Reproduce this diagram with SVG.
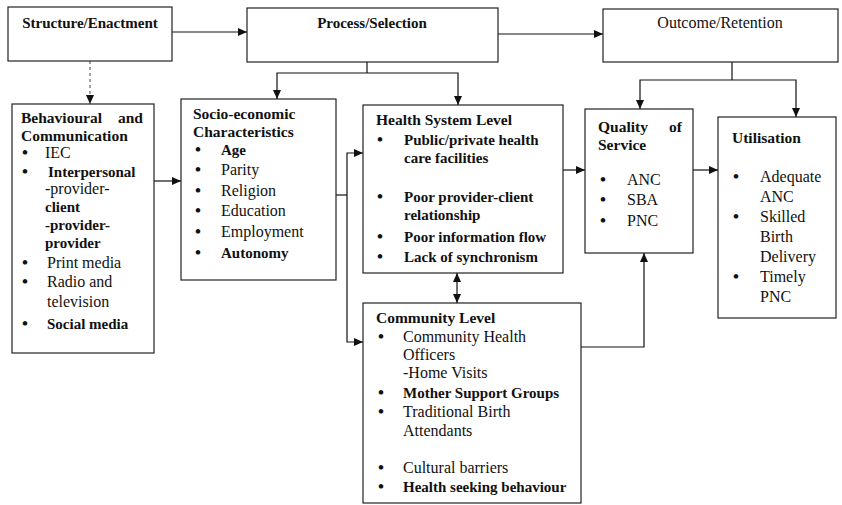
<svg xmlns="http://www.w3.org/2000/svg" width="842" height="505" viewBox="0 0 842 505">
<style>
text{font-family:"Liberation Serif","Times New Roman",serif;font-size:16px;fill:#111}
.b{font-weight:bold;font-size:15px}
.h{font-weight:bold;font-size:15.5px}
.u{font-weight:bold;font-size:17px}
.box{fill:#fff;stroke:#222;stroke-width:1.2}
.c{fill:none;stroke:#111;stroke-width:1.2}
.d{stroke-dasharray:3,3;stroke:#666}
</style>
<defs>
<marker id="ah" markerUnits="userSpaceOnUse" markerWidth="9" markerHeight="8" refX="9" refY="4" orient="auto-start-reverse"><path d="M0,0 L9,4 L0,8 z" fill="#111"/></marker>
</defs>
<rect width="842" height="505" fill="#fff"/>
<g id="connectors">
<path class="c" d="M172,32 H247" marker-end="url(#ah)"/>
<path class="c" d="M498,34 H603" marker-end="url(#ah)"/>
<path class="c d" d="M90,61 V104" marker-end="url(#ah)"/>
<path class="c" d="M367,62 V73"/>
<path class="c" d="M367,73 H277 V99" marker-end="url(#ah)"/>
<path class="c" d="M367,73 H458 V105" marker-end="url(#ah)"/>
<path class="c" d="M732,62 V80"/>
<path class="c" d="M732,80 H640 V109" marker-end="url(#ah)"/>
<path class="c" d="M732,80 H796 V117" marker-end="url(#ah)"/>
<path class="c" d="M154,181 H181" marker-end="url(#ah)"/>
<path class="c" d="M336,195 H347"/>
<path class="c" d="M347,195 V153 H363" marker-end="url(#ah)"/>
<path class="c" d="M347,195 V342 H363" marker-end="url(#ah)"/>
<path class="c" d="M563,170 H585" marker-end="url(#ah)"/>
<path class="c" d="M693,170 H718" marker-end="url(#ah)"/>
<path class="c" d="M457,273 V303" marker-start="url(#ah)" marker-end="url(#ah)"/>
<path class="c" d="M581,347 H644 V253" marker-end="url(#ah)"/>
</g>
<g id="structure">
<rect class="box" x="8" y="7" width="164" height="54"/>
<text class="b" x="90" y="28" text-anchor="middle">Structure/Enactment</text>
</g>
<g id="process">
<rect class="box" x="247" y="8" width="251" height="54"/>
<text class="b" x="372" y="28" text-anchor="middle">Process/Selection</text>
</g>
<g id="outcome">
<rect class="box" x="603" y="9" width="235" height="53"/>
<text x="720" y="28" text-anchor="middle">Outcome/Retention</text>
</g>
<g id="behavioural">
<rect class="box" x="12" y="104" width="142" height="249"/>
<text class="h" x="21" y="123">Behavioural</text>
<text class="h" x="143" y="123" text-anchor="end">and</text>
<text class="h" x="21" y="141">Communication</text>
<text class="u" x="22" y="158">•</text><text x="45" y="158">IEC</text>
<text class="u" x="22" y="177">•</text><text class="b" x="48" y="177">Interpersonal</text>
<text x="45" y="194">-provider-</text>
<text class="b" x="45" y="212">client</text>
<text class="b" x="45" y="230">-provider-</text>
<text class="b" x="45" y="248">provider</text>
<text class="u" x="22" y="268">•</text><text x="47" y="268">Print media</text>
<text class="u" x="22" y="287">•</text><text x="47" y="287">Radio and</text>
<text x="47" y="307">television</text>
<text class="u" x="22" y="329">•</text><text class="b" x="47" y="329">Social media</text>
</g>
<g id="socio">
<rect class="box" x="181" y="99" width="155" height="181"/>
<text class="h" x="193" y="119">Socio-economic</text>
<text class="h" x="193" y="137">Characteristics</text>
<text class="u" x="195" y="155">•</text><text class="b" x="221" y="155">Age</text>
<text class="u" x="195" y="175">•</text><text x="221" y="175">Parity</text>
<text class="u" x="195" y="196">•</text><text x="221" y="196">Religion</text>
<text class="u" x="195" y="216">•</text><text x="221" y="216">Education</text>
<text class="u" x="195" y="237">•</text><text x="221" y="237">Employment</text>
<text class="u" x="195" y="258">•</text><text class="b" x="221" y="258">Autonomy</text>
</g>
<g id="health">
<rect class="box" x="363" y="105" width="200" height="168"/>
<text class="h" x="376" y="125">Health System Level</text>
<text class="u" x="377" y="145">•</text><text class="b" x="404" y="145">Public/private health</text>
<text class="b" x="404" y="163">care facilities</text>
<text class="u" x="377" y="202">•</text><text class="b" x="404" y="202">Poor provider-client</text>
<text class="b" x="404" y="220">relationship</text>
<text class="u" x="377" y="242">•</text><text class="b" x="404" y="242">Poor information flow</text>
<text class="u" x="377" y="262">•</text><text class="b" x="404" y="262">Lack of synchronism</text>
</g>
<g id="quality">
<rect class="box" x="585" y="109" width="108" height="144"/>
<text class="h" x="598" y="132">Quality</text>
<text class="h" x="682" y="132" text-anchor="end">of</text>
<text class="h" x="598" y="150">Service</text>
<text class="u" x="600" y="185">•</text><text x="627" y="185">ANC</text>
<text class="u" x="600" y="205">•</text><text x="627" y="205">SBA</text>
<text class="u" x="600" y="226">•</text><text x="627" y="226">PNC</text>
</g>
<g id="utilisation">
<rect class="box" x="718" y="117" width="118" height="201"/>
<text class="h" x="732" y="143">Utilisation</text>
<text class="u" x="733" y="182">•</text><text x="760" y="182">Adequate</text>
<text x="760" y="202">ANC</text>
<text class="u" x="733" y="222">•</text><text x="760" y="222">Skilled</text>
<text x="760" y="242">Birth</text>
<text x="760" y="262">Delivery</text>
<text class="u" x="733" y="282">•</text><text x="760" y="282">Timely</text>
<text x="760" y="302">PNC</text>
</g>
<g id="community">
<rect class="box" x="363" y="303" width="218" height="200"/>
<text class="h" x="376" y="323">Community Level</text>
<text class="u" x="378" y="342">•</text><text x="403" y="342">Community Health</text>
<text x="403" y="360">Officers</text>
<text x="403" y="378">-Home Visits</text>
<text class="u" x="378" y="398">•</text><text class="b" x="403" y="398">Mother Support Groups</text>
<text class="u" x="378" y="417">•</text><text x="403" y="417">Traditional Birth</text>
<text x="403" y="436">Attendants</text>
<text class="u" x="378" y="473">•</text><text x="403" y="473">Cultural barriers</text>
<text class="u" x="378" y="492">•</text><text class="b" x="403" y="492">Health seeking behaviour</text>
</g>
</svg>
